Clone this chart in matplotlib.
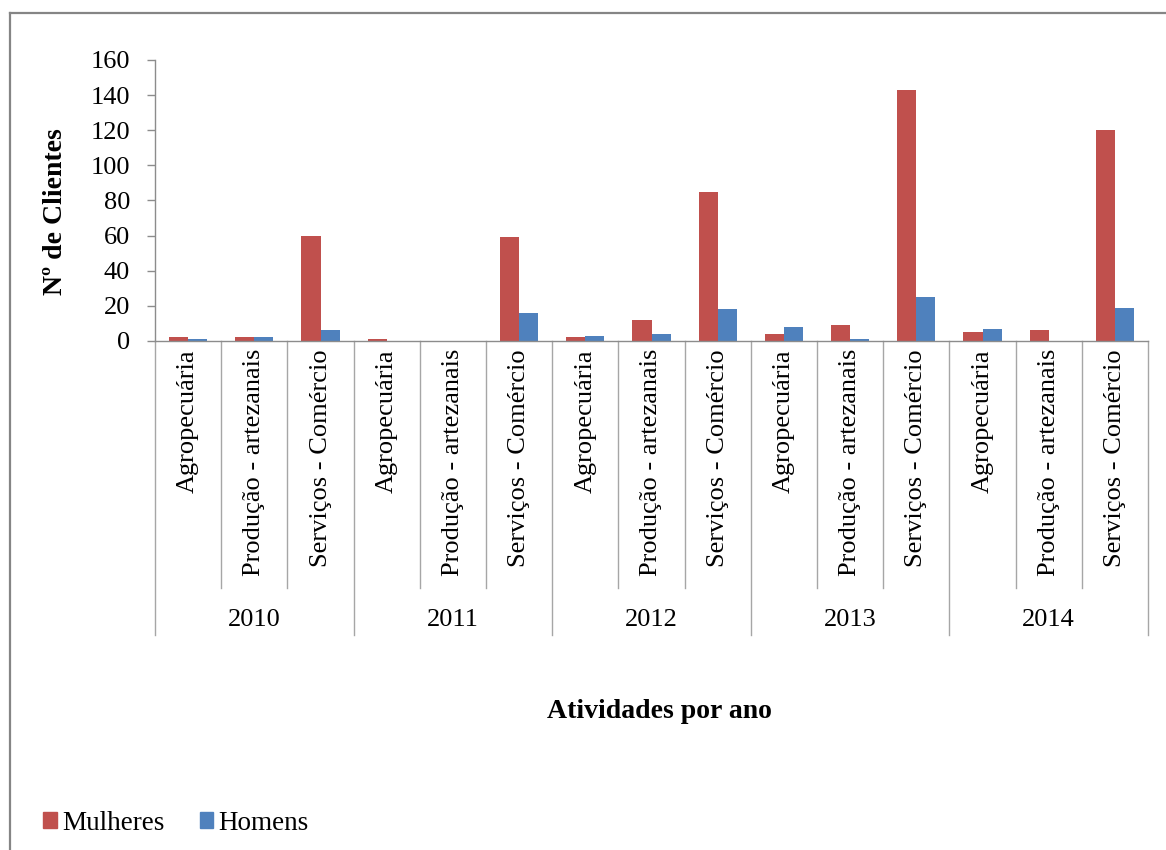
import matplotlib
matplotlib.use("Agg")
import matplotlib.pyplot as plt
from matplotlib.patches import Patch
from matplotlib.lines import Line2D
from matplotlib.transforms import blended_transform_factory
import numpy as np

plt.rcParams['font.family'] = ['Liberation Serif', 'DejaVu Serif']

years = ["2010", "2011", "2012", "2013", "2014"]
activities = ["Agropecuária", "Produção - artezanais", "Serviços - Comércio"]
mulheres = [2, 2, 60, 1, 0, 59, 2, 12, 85, 4, 9, 143, 5, 6, 120]
homens = [1, 2, 6, 0, 0, 16, 3, 4, 18, 8, 1, 25, 7, 0, 19]
y_ticks = [0, 20, 40, 60, 80, 100, 120, 140, 160]

red = "#C0504D"
blue = "#4F81BD"
grey = "#8C8C8C"

W, H = 1166, 850
fig = plt.figure(figsize=(W / 100, H / 100), dpi=100)
ax = fig.add_axes([155 / W, 1 - 341 / H, (1148 - 155) / W, (341 - 60) / H])

n = len(mulheres)
x = np.arange(n) + 0.5
bw = 0.29
ax.bar(x - bw / 2, mulheres, bw, color=red, label="Mulheres")
ax.bar(x + bw / 2, homens, bw, color=blue, label="Homens")

ax.set_xlim(0, n)
ax.set_ylim(0, 160)
ax.set_yticks(y_ticks)
ax.set_xticks([])
ax.tick_params(axis='y', direction='out', length=6, width=1, color=grey,
               pad=12, labelsize=19)
for s in ("top", "right"):
    ax.spines[s].set_visible(False)
for s in ("left", "bottom"):
    ax.spines[s].set_color(grey)
    ax.spines[s].set_linewidth(1)

# category table below the axis
tr = blended_transform_factory(ax.transData, fig.transFigure)
y0 = 1 - 341 / H
y_cat = 1 - 588 / H
y_year = 1 - 635 / H
for i in range(n + 1):
    bottom = y_year if i % 3 == 0 else y_cat
    ax.add_line(Line2D([i, i], [y0, bottom], transform=tr, color="#A6A6A6",
                       lw=1, clip_on=False))
for i in range(n):
    ax.text(i + 0.5, 1 - 349 / H, activities[i % 3], transform=tr,
            rotation=90, ha='center', va='top', fontsize=19)
for j, yr in enumerate(years):
    ax.text(3 * j + 1.5, 1 - 620 / H, yr, transform=tr, ha='center',
            va='center', fontsize=19)

fig.text(659 / W, 1 - 712 / H, "Atividades por ano", ha='center', va='center',
         fontsize=20, fontweight='bold')
fig.text(55 / W, 1 - 212 / H, "Nº de Clientes", ha='center', va='center',
         rotation=90, fontsize=20, fontweight='bold')

handles = [Patch(color=red, label="Mulheres"), Patch(color=blue, label="Homens")]
fig.legend(handles=handles, loc='center left',
           bbox_to_anchor=(43 / W, 1 - 823 / H), ncol=2, frameon=False,
           fontsize=19.5, handlelength=0.5, handleheight=0.5,
           handletextpad=0.2, columnspacing=1.3,
           borderpad=0, borderaxespad=0)

# outer chart frame
fig.add_artist(Line2D([9.5 / W, 9.5 / W], [0, 1 - 13 / H],
                      transform=fig.transFigure, color="#858585", lw=1.6))
fig.add_artist(Line2D([9.5 / W, 1], [1 - 13 / H, 1 - 13 / H],
                      transform=fig.transFigure, color="#858585", lw=1.6))

fig.savefig("out.png", dpi=100)
